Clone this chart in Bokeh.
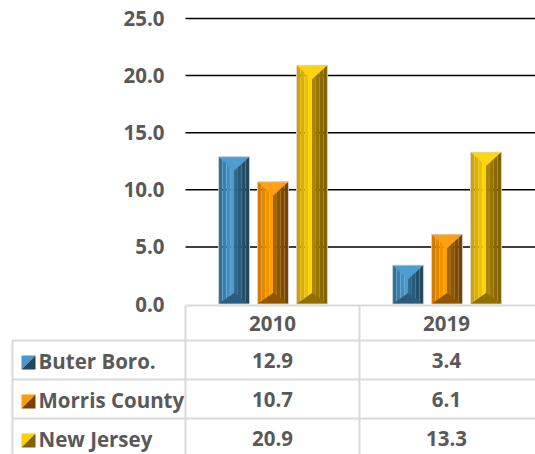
from bokeh.plotting import figure
from bokeh.models import Range1d
from bokeh.embed import file_html
from bokeh.resources import INLINE
from bokeh.core.properties import value

# ---- data ----
years = ["2010", "2019"]
series = ["Buter Boro.", "Morris County", "New Jersey"]
buter = [12.9, 3.4]
morris = [10.7, 6.1]
new_jersey = [20.9, 13.3]
y_ticks = [0, 5, 10, 15, 20, 25]

values = [buter, morris, new_jersey]

# ---- style ----
FONT = value("Open Sans")
FS = "20.5px"
TXT = "#595959"
GRID = "#d9d9d9"
strip_colors = [
    ["#30709a", "#3880ad", "#4290c1", "#4b9bcf", "#2f6889", "#2a5b7a", "#264f69", "#23475e"],
    ["#d27c00", "#df8700", "#f09400", "#ffa000", "#a26300", "#8f5600", "#7f4b00", "#744400"],
    ["#d4a200", "#ddb000", "#ecc100", "#ffd500", "#a8840a", "#977500", "#8a6a00", "#806200"],
]
top_colors = ["#4d9dd2", "#ff9f14", "#ffd414"]
bot_colors = ["#2b5c7c", "#8f5600", "#8e6f00"]
key_light = ["#4a98cb", "#ff9a0a", "#ffd000"]
key_dark = ["#23475e", "#744400", "#806200"]

PX_PER_UNIT = 11.42
p = figure(width=535, height=454, output_backend="svg", toolbar_location=None,
           x_range=Range1d(-185 / 174, 350 / 174),
           y_range=Range1d(-150.5 / PX_PER_UNIT, 303.5 / PX_PER_UNIT),
           x_axis_type=None, y_axis_type=None, min_border=0,
           outline_line_color=None, background_fill_color="white")
p.extra_x_ranges = {"px": Range1d(0, 535)}
p.extra_y_ranges = {"py": Range1d(454, 0)}

# gridlines
gy = [t for t in y_ticks if t > 0]
p.segment(x0=[0] * len(gy), x1=[2.05] * len(gy), y0=gy, y1=gy,
          line_color="black", line_width=1.5)

# y tick labels
p.text(x=[0] * len(y_ticks), y=y_ticks, text=[f"{t:.1f}" for t in y_ticks],
       x_offset=-21, text_align="right", text_baseline="middle",
       text_font=FONT, text_font_style="bold", text_font_size=FS, text_color=TXT)

# bars with bevel look
bw = 0.178
gap = 0.224
nstrip = 8
bt = 14 / PX_PER_UNIT
bb = 11 / PX_PER_UNIT
for k, vals in enumerate(values):
    L, R, B, T, C = [], [], [], [], []
    txs, tys, bxs, bys = [], [], [], []
    oL, oR, oT = [], [], []
    for i, v in enumerate(vals):
        xc = i + 0.503 + (k - 1) * gap
        x0, x1 = xc - bw / 2, xc + bw / 2
        for j in range(nstrip):
            L.append(x0 + j * bw / nstrip)
            R.append(x0 + (j + 1) * bw / nstrip)
            B.append(0)
            T.append(v)
            C.append(strip_colors[k][j])
        txs.append([x0, x1, xc]); tys.append([v, v, v - bt])
        bxs.append([x0, x1, xc]); bys.append([0, 0, bb])
        oL.append(x0); oR.append(x1); oT.append(v)
    p.quad(left=L, right=R, bottom=B, top=T, fill_color=C, line_color=None)
    p.patches(xs=txs, ys=tys, fill_color=top_colors[k], line_color=None)
    p.patches(xs=bxs, ys=bys, fill_color=bot_colors[k], line_color=None)
    p.quad(left=oL, right=oR, bottom=[0] * len(oL), top=oT, fill_color=None,
           line_color="#d8d8d8", line_width=1, line_alpha=0.8)

# table lines
p.segment(x0=[185, 12, 12, 12], x1=[535] * 4, y0=[305, 340, 379, 418], y1=[305, 340, 379, 418],
          x_range_name="px", y_range_name="py", line_color=GRID, line_width=2)
p.segment(x0=[12], x1=[12], y0=[340], y1=[460],
          x_range_name="px", y_range_name="py", line_color=GRID, line_width=2)
p.segment(x0=[0, 1], x1=[0, 1], y0=[305, 305], y1=[460, 460],
          y_range_name="py", line_color=GRID, line_width=2)

# header
p.text(x=[i + 0.5 for i in range(len(years))], y=[323] * len(years), text=years,
       y_range_name="py", text_align="center", text_baseline="middle",
       text_font=FONT, text_font_style="bold", text_font_size=FS, text_color=TXT)

row_c = [360, 399, 438]
for k, vals in enumerate(values):
    p.text(x=[i + 0.5 for i in range(len(vals))], y=[row_c[k]] * len(vals),
           text=[f"{v:.1f}" for v in vals], y_range_name="py",
           text_align="center", text_baseline="middle",
           text_font=FONT, text_font_style="bold", text_font_size=FS, text_color=TXT)

p.text(x=[38] * 3, y=row_c, text=series, x_range_name="px", y_range_name="py",
       text_align="left", text_baseline="middle",
       text_font=FONT, text_font_style="bold", text_font_size=FS, text_color=TXT)

# legend keys
kx0, kx1 = 21, 35
for k in range(3):
    yc = row_c[k] + 2
    y0, y1 = yc - 7, yc + 7
    p.patches(xs=[[kx0, kx1, kx0], [kx1, kx1, kx0]], ys=[[y0, y0, y1], [y0, y1, y1]],
              fill_color=[key_light[k], key_dark[k]], line_color=None,
              x_range_name="px", y_range_name="py")

open("out.html", "w").write(file_html(p, INLINE))
